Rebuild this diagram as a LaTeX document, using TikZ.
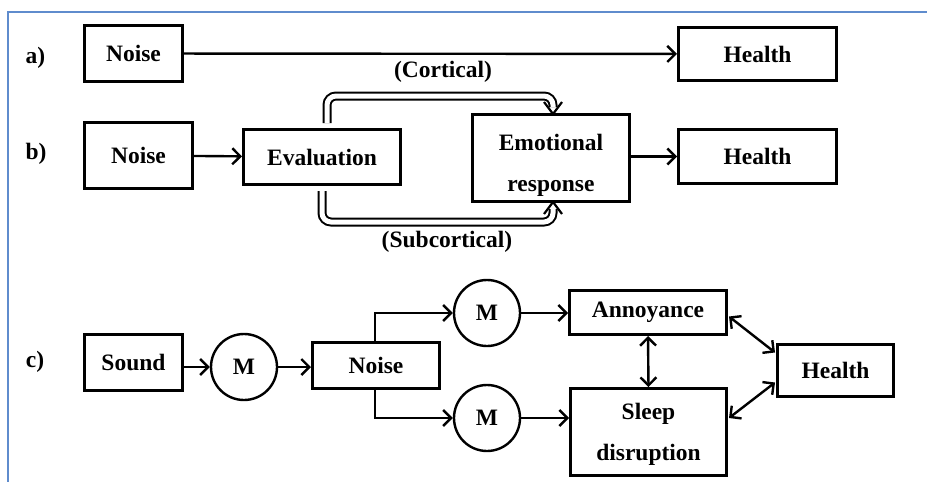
\documentclass[tikz,border=0pt]{standalone}
\usepackage{fontspec}
\setmainfont{Liberation Serif}
\usetikzlibrary{arrows.meta,calc}
\definecolor{frameblue}{RGB}{95,140,205}
\begin{document}
\begin{tikzpicture}[x=1pt,y=-1pt,
  box/.style={draw, line width=3pt, inner sep=0pt, align=center, font=\bfseries\fontsize{23.5}{41}\selectfont},
  mod/.style={draw, circle, line width=2.4pt, minimum size=66pt, inner sep=0pt, font=\bfseries\fontsize{23.5}{27}\selectfont},
  lbl/.style={font=\bfseries\fontsize{23.5}{27}\selectfont, inner sep=0pt},
  conn/.style={line width=2.4pt, -{Straight Barb[length=8pt,width=16pt]}},
  biconn/.style={line width=2.4pt, {Straight Barb[length=8pt,width=16pt]}-{Straight Barb[length=8pt,width=16pt]}},
  dbl/.style={draw, line width=2pt, double distance=5pt, rounded corners=9pt, shorten >=7pt},
  barb/.style={draw, line width=2.2pt, line join=miter},
]
\useasboundingbox (0,0) rectangle (927,482);
\fill[white] (0,0) rectangle (927,482);
\draw[line width=1.5pt, frameblue] (8,482) -- (8,12) -- (927,12);

% labels
\node[lbl] (la) at (35.5,58) {a)};
\node[lbl] (lb) at (36,154) {b)};
\node[lbl] (lc) at (35,362) {c)};

% a)
\node[box, minimum width=98pt, minimum height=56pt] (na) at (133.5,53.5) {Noise};
\node[box, minimum width=158pt, minimum height=53pt] (ha) at (757.5,54) {Health};
\draw[conn] (na) -- (ha);

% b)
\node[box, minimum width=108pt, minimum height=66pt] (nb) at (138.5,155.5) {Noise};
\node[box, minimum width=157pt, minimum height=55pt] (ev) at (322,157) {Evaluation};
\node[box, minimum width=157pt, minimum height=87pt] (emo) at (551,158) {\rule{0pt}{30pt}Emotional\\response};
\node[box, minimum width=158pt, minimum height=54pt] (hb) at (757.5,156.5) {Health};
\draw[conn] (nb) -- (ev);
\draw[conn] (emo.east |- hb.west) -- (hb.west);
\coordinate (c1) at (327,96);
\coordinate (c2) at (553,96);
\coordinate (s1) at (322,222);
\coordinate (s2) at (553,222);
\coordinate (ct) at ($(emo.north -| c2)+(0,1)$);
\coordinate (st) at ($(emo.south -| s2)+(0,-1)$);
\draw[dbl] ($(ev.north -| c1)+(0,-5)$) -- (c1) -- (c2) -- (ct);
\draw[dbl] ($(ev.south -| s1)+(0,5)$) -- (s1) -- (s2) -- (st);
\draw[barb] ($(ct)+(-9,-12)$) -- (ct) -- ($(ct)+(9,-12)$);
\draw[barb] ($(st)+(-9,12)$) -- (st) -- ($(st)+(9,12)$);
\node[lbl] (lcort) at (443,72) {(Cortical)};
\node[lbl] (lsub) at (447,242) {(Subcortical)};

% c)
\node[box, minimum width=98pt, minimum height=56pt] (snd) at (133.5,362.5) {Sound};
\node[mod] (m1) at (244,367) {M};
\node[box, minimum width=127pt, minimum height=46pt] (nc) at (376,365.5) {Noise};
\node[mod] (m2) at (487,313) {M};
\node[mod] (m3) at (487,418) {M};
\node[box, minimum width=157pt, minimum height=44pt] (ann) at (648,312.5) {Annoyance};
\node[box, minimum width=156pt, minimum height=87pt] (slp) at (648.5,432) {\rule{0pt}{20pt}Sleep\\disruption};
\node[box, minimum width=116pt, minimum height=52pt] (hc) at (835.5,370.5) {Health};
\coordinate (b1) at (375,313);
\coordinate (b2) at (375,418);
\draw[conn] (snd.east |- m1.west) -- (m1.west);
\draw[conn] (m1.east) -- (m1.east -| nc.west);
\draw[conn] (nc.north -| b1) -- (b1) -- (m2.west);
\draw[conn] (nc.south -| b2) -- (b2) -- (m3.west);
\draw[conn] (m2.east) -- (m2.east -| ann.west);
\draw[conn] (m3.east) -- (m3.east -| slp.west);
\draw[biconn] (ann.south) -- (slp.north);
\draw[biconn] ($(ann.east)+(1,4)$) -- ($(hc.west)+(-1,-18)$);
\draw[biconn] ($(slp.east)+(1,-14)$) -- ($(hc.west)+(-1,12)$);
\end{tikzpicture}
\end{document}
